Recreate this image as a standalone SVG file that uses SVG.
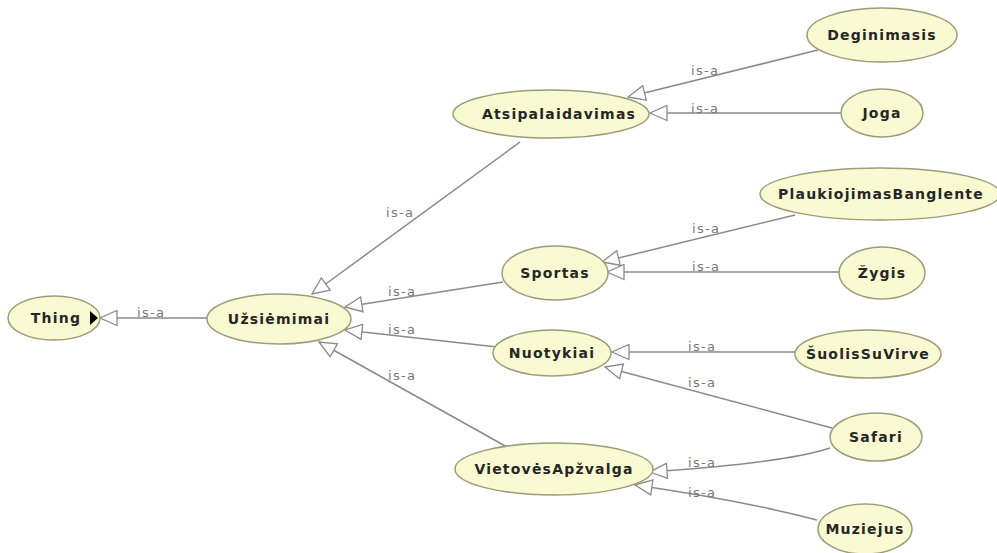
<svg xmlns="http://www.w3.org/2000/svg" width="997" height="553" viewBox="0 0 997 553">
<style>
.node ellipse{fill:#fafad2;stroke:#9c9c78;stroke-width:1.5}
.node text{font-family:"DejaVu Sans",Verdana,sans-serif;font-weight:bold;font-size:14px;letter-spacing:1.2px;fill:#262626;text-anchor:middle}
.edges path{fill:none;stroke:#8a8a8a;stroke-width:1.5;marker-end:url(#open)}
.lbl{font-family:"DejaVu Sans",Verdana,sans-serif;font-size:13px;letter-spacing:1.3px;fill:#777}
</style>
<defs>
<marker id="open" viewBox="-1 -1 19 17" refX="17" refY="7.5" markerWidth="19" markerHeight="17" markerUnits="userSpaceOnUse" orient="auto">
<path d="M0,0 L17,7.5 L0,15 Z" fill="#fff" stroke="#8a8a8a" stroke-width="1.3"/>
</marker>
</defs>
<rect width="997" height="553" fill="#fff"/>
<g class="edges">
<path d="M207,318 L100,318"/>
<path d="M520,142 L312,294"/>
<path d="M503,282 L345,307"/>
<path d="M497,347 L345,330"/>
<path d="M507,447 L319,342"/>
<path d="M818,50 L628,97"/>
<path d="M842,113 L650,113"/>
<path d="M795,215 L602,262"/>
<path d="M840,272 L607,272"/>
<path d="M795,352 L612,352"/>
<path d="M832,428 L605,367"/>
<path d="M830,448 Q790,462 650,472"/>
<path d="M817,520 Q740,500 635,485"/>
<text class="lbl" x="137" y="317">is-a</text>
<text class="lbl" x="386" y="217">is-a</text>
<text class="lbl" x="388" y="296">is-a</text>
<text class="lbl" x="388" y="334">is-a</text>
<text class="lbl" x="388" y="380">is-a</text>
<text class="lbl" x="691" y="75">is-a</text>
<text class="lbl" x="691" y="113">is-a</text>
<text class="lbl" x="692" y="233">is-a</text>
<text class="lbl" x="692" y="271">is-a</text>
<text class="lbl" x="688" y="351">is-a</text>
<text class="lbl" x="688" y="387">is-a</text>
<text class="lbl" x="688" y="467">is-a</text>
<text class="lbl" x="688" y="497">is-a</text>
</g>
<g id="thing" class="node"><ellipse cx="54" cy="318" rx="46" ry="22"/><text x="56" y="323">Thing</text><path d="M90,311 L98,318 L90,325 Z" fill="#000"/></g>
<g id="uzsiemimai" class="node"><ellipse cx="279" cy="319" rx="72" ry="25"/><text x="279" y="324">Užsiėmimai</text></g>
<g id="atsipalaidavimas" class="node"><ellipse cx="551" cy="114" rx="98" ry="24"/><text x="559" y="119">Atsipalaidavimas</text></g>
<g id="deginimasis" class="node"><ellipse cx="882" cy="35" rx="75" ry="27"/><text x="882" y="40">Deginimasis</text></g>
<g id="joga" class="node"><ellipse cx="882" cy="113" rx="41" ry="24"/><text x="882" y="118">Joga</text></g>
<g id="plaukiojimas" class="node"><ellipse cx="880" cy="194" rx="120" ry="26"/><text x="881" y="199">PlaukiojimasBanglente</text></g>
<g id="sportas" class="node"><ellipse cx="555" cy="273" rx="53" ry="27"/><text x="555" y="278">Sportas</text></g>
<g id="zygis" class="node"><ellipse cx="882" cy="273" rx="43" ry="26"/><text x="882" y="278">Žygis</text></g>
<g id="nuotykiai" class="node"><ellipse cx="552" cy="353" rx="59" ry="23"/><text x="552" y="358">Nuotykiai</text></g>
<g id="suolis" class="node"><ellipse cx="868" cy="354" rx="73" ry="24"/><text x="868" y="359">ŠuolisSuVirve</text></g>
<g id="safari" class="node"><ellipse cx="876" cy="437" rx="46" ry="24"/><text x="876" y="442">Safari</text></g>
<g id="vietoves" class="node"><ellipse cx="554" cy="469" rx="99" ry="26"/><text x="554" y="474">VietovėsApžvalga</text></g>
<g id="muziejus" class="node"><ellipse cx="865" cy="529" rx="47" ry="25"/><text x="865" y="534">Muziejus</text></g>
</svg>
